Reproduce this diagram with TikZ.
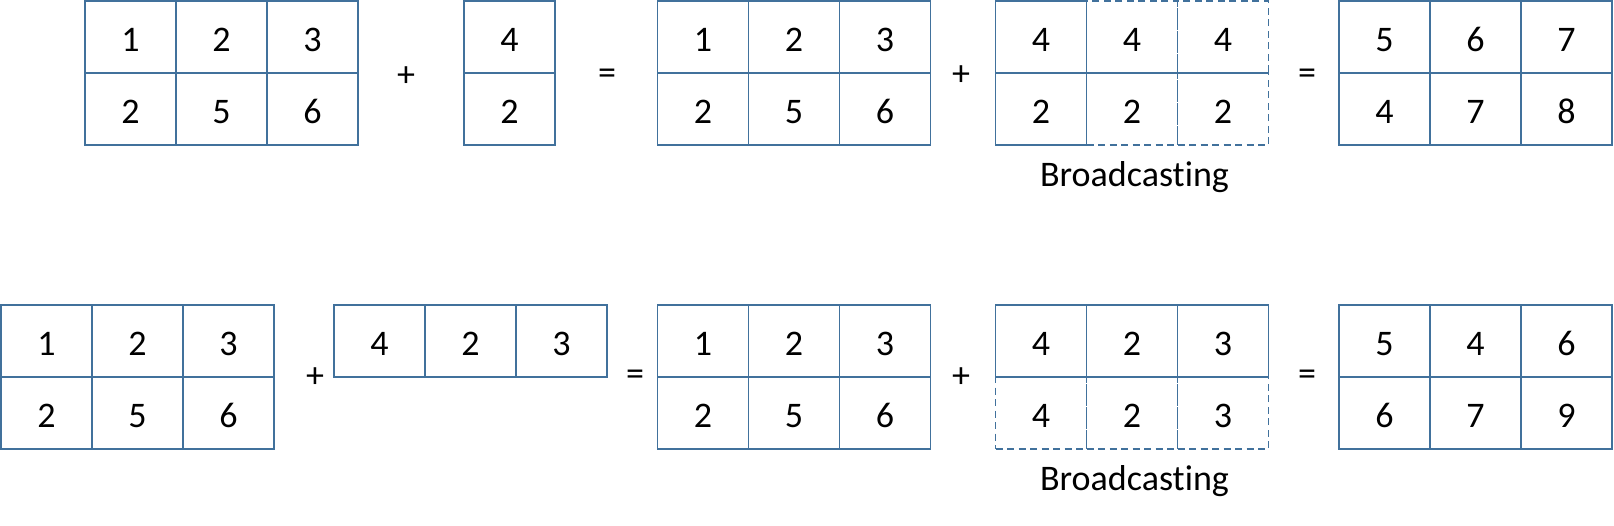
\documentclass[tikz,border=0pt]{standalone}
\usepackage{fontspec}
\setmainfont{Carlito}[RawFeature={-liga}]
\definecolor{edge}{HTML}{41719C}
\begin{document}
\begin{tikzpicture}[x=1pt,y=-1pt,
  cell/.style={draw=edge, line width=1.8pt, minimum width=91pt, minimum height=72pt,
    inner sep=0pt, outer sep=0pt, text height=28pt, text depth=0pt,
    font=\fontsize{36}{40}\selectfont},
  dcell/.style={cell, dash pattern=on 7pt off 4.5pt},
  op/.style={font=\fontsize{36}{40}\selectfont, inner sep=0pt},
  lbl/.style={font=\fontsize{36}{40}\selectfont, inner sep=0pt, anchor=base},
  divider/.style={draw=edge, line width=1.8pt}]
\useasboundingbox (0,0) rectangle (1614,525);

% ---------- Row 1 ----------
% matrix A
\node[cell] (a11) at (130.5,37) {1};
\node[cell] (a12) at (221.5,37) {2};
\node[cell] (a13) at (312.5,37) {3};
\node[cell] (a21) at (130.5,109) {2};
\node[cell] (a22) at (221.5,109) {5};
\node[cell] (a23) at (312.5,109) {6};
\node[op] (p1) at (406,77) {+};
% column vector
\node[cell] (v11) at (509.5,37) {4};
\node[cell] (v21) at (509.5,109) {2};
\node[op] (e1) at (607,77) {=};
% matrix B
\node[cell] (b11) at (703,37) {1};
\node[cell] (b12) at (794,37) {2};
\node[cell] (b13) at (885,37) {3};
\node[cell] (b21) at (703,109) {2};
\node[cell] (b22) at (794,109) {5};
\node[cell] (b23) at (885,109) {6};
\node[op] (p2) at (961,76) {+};
% broadcast C
\node[dcell] (c12) at (1132,37) {4};
\node[dcell] (c13) at (1223,37) {4};
\node[dcell] (c22) at (1132,109) {2};
\node[dcell] (c23) at (1223,109) {2};
\node[cell] (c11) at (1041,37) {4};
\node[cell] (c21) at (1041,109) {2};
\draw[divider] (c12.south west) -- (c13.south east);
\node[lbl] (bc1) at (1134.5,186.7) {Broadcasting};
\node[op] (e2) at (1307,77) {=};
% result D
\node[cell] (d11) at (1384.5,37) {5};
\node[cell] (d12) at (1475.5,37) {6};
\node[cell] (d13) at (1566.5,37) {7};
\node[cell] (d21) at (1384.5,109) {4};
\node[cell] (d22) at (1475.5,109) {7};
\node[cell] (d23) at (1566.5,109) {8};

% ---------- Row 2 ----------
% matrix E
\node[cell] (f11) at (46.5,341) {1};
\node[cell] (f12) at (137.5,341) {2};
\node[cell] (f13) at (228.5,341) {3};
\node[cell] (f21) at (46.5,413) {2};
\node[cell] (f22) at (137.5,413) {5};
\node[cell] (f23) at (228.5,413) {6};
\node[op] (p3) at (315,378) {+};
% row vector
\node[cell] (r11) at (379.5,341) {4};
\node[cell] (r12) at (470.5,341) {2};
\node[cell] (r13) at (561.5,341) {3};
\node[op] (e3) at (635,378) {=};
% matrix G
\node[cell] (g11) at (703,341) {1};
\node[cell] (g12) at (794,341) {2};
\node[cell] (g13) at (885,341) {3};
\node[cell] (g21) at (703,413) {2};
\node[cell] (g22) at (794,413) {5};
\node[cell] (g23) at (885,413) {6};
\node[op] (p4) at (961,378) {+};
% broadcast H
\node[dcell] (h21) at (1041,413) {4};
\node[dcell] (h22) at (1132,413) {2};
\node[dcell] (h23) at (1223,413) {3};
\node[cell] (h11) at (1041,341) {4};
\node[cell] (h12) at (1132,341) {2};
\node[cell] (h13) at (1223,341) {3};
\node[lbl] (bc2) at (1134.5,490.7) {Broadcasting};
\node[op] (e4) at (1307,378) {=};
% result I
\node[cell] (i11) at (1384.5,341) {5};
\node[cell] (i12) at (1475.5,341) {4};
\node[cell] (i13) at (1566.5,341) {6};
\node[cell] (i21) at (1384.5,413) {6};
\node[cell] (i22) at (1475.5,413) {7};
\node[cell] (i23) at (1566.5,413) {9};
\end{tikzpicture}
\end{document}
